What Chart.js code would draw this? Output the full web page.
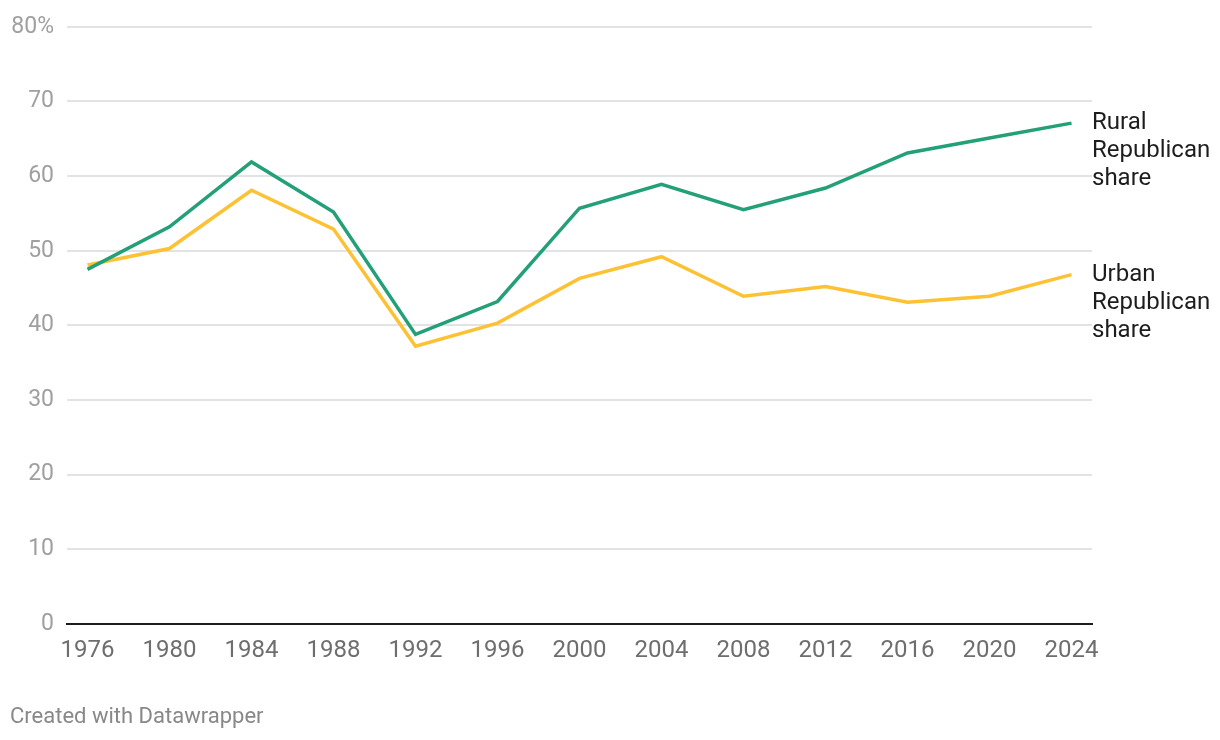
<!DOCTYPE html>
<html>
<head>
<meta charset="utf-8">
<script src="https://cdn.jsdelivr.net/npm/chart.js@4"></script>
<style>
  html, body { margin: 0; padding: 0; background: #fff; }
  #wrap { width: 1220px; height: 740px; position: relative; }
</style>
</head>
<body>
<div id="wrap"><canvas id="myChart" width="1220" height="740"></canvas></div>
<script>
const years = [1976, 1980, 1984, 1988, 1992, 1996, 2000, 2004, 2008, 2012, 2016, 2020, 2024]
const rural = [47.5, 53.2, 61.9, 55.2, 38.8, 43.2, 55.7, 58.9, 55.5, 58.4, 63.1, 65.1, 67.1]
const urban = [48.1, 50.3, 58.1, 52.9, 37.2, 40.3, 46.3, 49.2, 43.9, 45.2, 43.1, 43.9, 46.8]
const yTicks = [0, 10, 20, 30, 40, 50, 60, 70, 80]
const ruralLabel = ['Rural', 'Republican', 'share']
const urbanLabel = ['Urban', 'Republican', 'share']

const green = '#23a077'
const yellow = '#fdc233'

const ctx = document.querySelector('#myChart').getContext('2d')

// etiquetas no fim das linhas + rodapé
const endLabels = {
    id: 'endLabels',
    afterDatasetsDraw(chart) {
        const {ctx} = chart
        ctx.save()
        ctx.font = '24px Roboto'
        ctx.fillStyle = '#1d1d1d'
        ctx.textBaseline = 'middle'
        ctx.textAlign = 'left'
        const lbls = [ruralLabel, urbanLabel]
        chart.data.datasets.forEach((ds, i) => {
            const pts = chart.getDatasetMeta(i).data
            const last = pts[pts.length - 1]
            lbls[i].forEach((t, j) => ctx.fillText(t, chart.chartArea.right, last.y + j * 28))
        })
        ctx.font = '22px Roboto'
        ctx.fillStyle = '#888'
        ctx.fillText('Created with Datawrapper', 10, 717)
        ctx.restore()
    }
}

const data = {
    datasets: [{
        label: 'Rural Republican share',
        data: years.map((y, i) => ({x: y, y: rural[i]})),
        borderColor: green,
        borderWidth: 3.5,
        pointRadius: 0,
        tension: 0,
    }, {
        label: 'Urban Republican share',
        data: years.map((y, i) => ({x: y, y: urban[i]})),
        borderColor: yellow,
        borderWidth: 3.5,
        pointRadius: 0,
        tension: 0,
    }]
}

const config = {
    type: 'line',
    data: data,
    plugins: [endLabels],
    options: {
        responsive: false,
        animation: false,
        layout: { padding: { top: 23, right: 128, bottom: 0, left: 0 } },
        plugins: { legend: { display: false }, tooltip: { enabled: false } },
        scales: {
            x: {
                type: 'linear',
                min: 1975,
                max: 2025,
                afterBuildTicks: (scale) => { scale.ticks = years.map(v => ({value: v})) },
                afterFit: (scale) => { scale.height = 116 },
                grid: { display: false, drawTicks: false },
                border: { display: true, color: '#1d1d1d', width: 2 },
                ticks: {
                    color: '#6e6e6e',
                    font: { family: 'Roboto', size: 24 },
                    padding: 13,
                    maxRotation: 0,
                    autoSkip: false,
                    callback: (v) => String(v)
                }
            },
            y: {
                min: 0,
                max: 80,
                afterBuildTicks: (scale) => { scale.ticks = yTicks.map(v => ({value: v})) },
                afterFit: (scale) => { scale.width = 67 },
                grid: {
                    color: (c) => c.tick && c.tick.value === 0 ? 'rgba(0,0,0,0)' : '#e3e3e3',
                    lineWidth: 2,
                    drawTicks: false
                },
                border: { display: false },
                ticks: {
                    color: '#a0a0a0',
                    font: { family: 'Roboto', size: 23 },
                    padding: 13,
                    callback: (v) => v === 80 ? '80%' : String(v)
                }
            }
        }
    }
}

const myChart = new Chart(ctx, config)
</script>
</body>
</html>
